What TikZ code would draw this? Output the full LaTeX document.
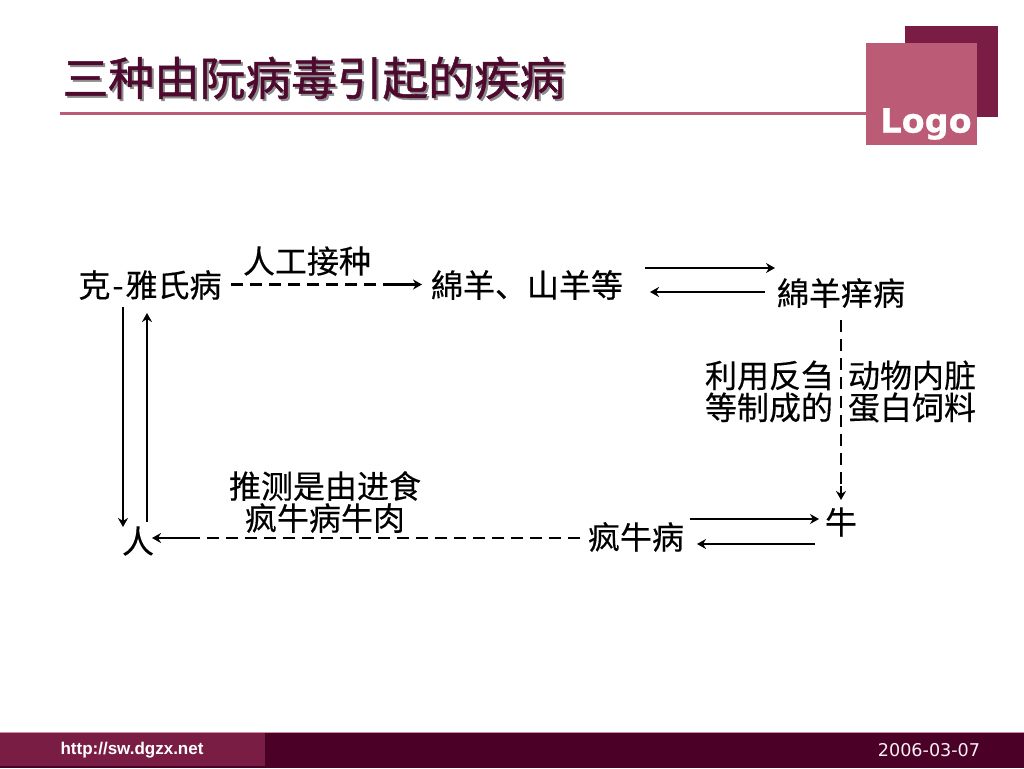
\documentclass[tikz,border=0pt]{standalone}
\usepackage{fontspec}
\usetikzlibrary{arrows.meta}
\newfontfamily\cjk[FakeBold=0.35]{Noto Sans CJK SC}
\newfontfamily\cjktitle[FakeBold=1.1]{Noto Sans CJK SC}
\newfontfamily\logofont[FakeBold=0.6]{DejaVu Sans Bold}
\newfontfamily\datefont{DejaVu Sans}
\newfontfamily\urlfont{Liberation Sans}
\definecolor{barDark}{HTML}{4B0027}
\definecolor{barMid}{HTML}{7A1D45}
\definecolor{rose}{HTML}{BC5B75}
\definecolor{titleCol}{HTML}{4E0A2E}
\tikzset{
  lbl/.style={inner sep=0pt,font=\cjk\fontsize{32}{36}\selectfont,align=center,text=black},
  lblb/.style={lbl,font=\cjk\fontsize{32}{32}\selectfont},
  conn/.style={draw=black,line width=2.4pt},
  arr/.style={conn,-{Stealth[length=9pt,width=10pt]}},
  dashline/.style={conn,dash pattern=on 12pt off 7pt}
}
\begin{document}
\begin{tikzpicture}[x=1pt,y=-1pt]
\useasboundingbox (0,0) rectangle (1024,768);
\fill[white] (0,0) rectangle (1024,768);
% header
\node[inner sep=0pt,text=black!45,font=\cjktitle\fontsize{45.7}{46}\selectfont] at (316,80) {三种由阮病毒引起的疾病};
\node[inner sep=0pt,text=titleCol,font=\cjktitle\fontsize{45.7}{46}\selectfont] (title) at (314,78) {三种由阮病毒引起的疾病};
\fill[rose] (60,111.5) rectangle (867,114.5);
\fill[barMid] (905,26) rectangle (998,117);
\fill[rose] (866,43) rectangle (977,145);
\node[inner sep=0pt,text=white,font=\logofont\fontsize{33.5}{33.5}\selectfont] (logo) at (926,124) {Logo};
% footer
\fill[barDark] (0,733) rectangle (1024,768);
\fill[rose!70] (0,732) rectangle (1024,733.2);
\fill[barMid] (0,733.2) rectangle (265,766);
\node[inner sep=0pt,text=white,font=\urlfont\bfseries\fontsize{17}{17}\selectfont] (url) at (132,750) {http://sw.dgzx.net};
\node[inner sep=0pt,text=white!90!rose,font=\datefont\fontsize{17.6}{17.6}\selectfont] (date) at (929,750) {2006-03-07};
% labels
\node[lbl] (cjd) at (150,285) {克\kern2pt-\kern2pt雅氏病};
\node[lbl] (art) at (307,261) {人工接种};
\node[lbl] (sheep) at (527,285) {綿羊、山羊等};
\node[lbl] (scrapie) at (841,293) {綿羊痒病};
\node[lblb] (feedL) at (769,391.5) {利用反刍\\等制成的};
\node[lblb] (feedR) at (912,391.5) {动物内脏\\蛋白饲料};
\node[lbl] (cow) at (841,522) {牛};
\node[lbl] (bse) at (636,537) {疯牛病};
\node[lblb] (eat) at (325,502) {推测是由进食\\疯牛病牛肉};
\node[lbl] (man) at (138,541) {人};
% junction points
\coordinate (a1) at (385,284.5);
\coordinate (a0) at (231,284.5);
\coordinate (a2) at (422,284.5);
\coordinate (b0) at (645,268);
\coordinate (b1) at (775,268);
\coordinate (c0) at (765,292);
\coordinate (c1) at (650,292);
\coordinate (d0) at (123,307);
\coordinate (d1) at (123,527);
\coordinate (e0) at (147,522);
\coordinate (e1) at (147,313);
\coordinate (f0) at (841,320);
\coordinate (f2) at (841,486);
\coordinate (f1) at (841,500);
\coordinate (g0) at (690,519);
\coordinate (g1) at (819,519);
\coordinate (h0) at (815,544);
\coordinate (h1) at (697,544);
\coordinate (i0) at (580,538);
\coordinate (i1) at (192,538);
\coordinate (i2) at (152,538);
% connectors
\draw[dashline] (a0) -- (a1);
\draw[arr] (a1) -- (a2);
\draw[arr] (b0) -- (b1);
\draw[arr] (c0) -- (c1);
\draw[arr] (d0) -- (d1);
\draw[arr] (e0) -- (e1);
\draw[dashline] (f0) -- (f2);
\draw[arr] (f2) -- (f1);
\draw[arr] (g0) -- (g1);
\draw[arr] (h0) -- (h1);
\draw[dashline] (i0) -- (i1);
\draw[arr] (i1) -- (i2);
\end{tikzpicture}
\end{document}
